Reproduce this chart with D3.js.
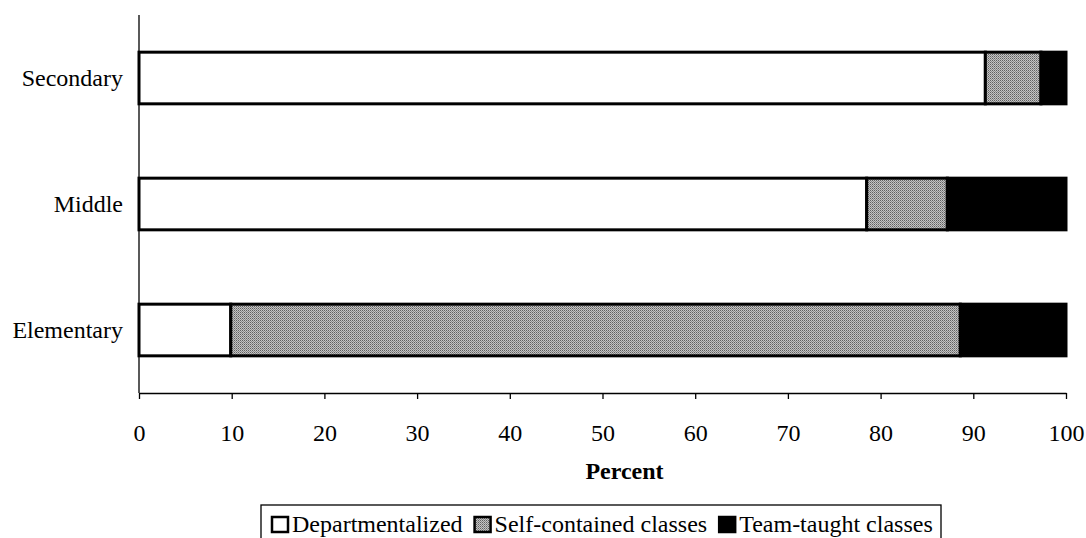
<!DOCTYPE html>
<html><head><meta charset="utf-8">
<script src="https://cdn.jsdelivr.net/npm/d3@7"></script>
<style>body{margin:0;background:#fff}svg{display:block}</style>
</head><body><svg id="c" width="1086" height="538"></svg>
<script>
const categories = ["Secondary", "Middle", "Elementary"];
const seriesNames = ["Departmentalized", "Self-contained classes", "Team-taught classes"];
const departmentalized = [91.3, 78.5, 9.9];
const selfContained = [6.0, 8.7, 78.7];
const teamTaught = [2.7, 12.8, 11.4];
const xTicks = [0,10,20,30,40,50,60,70,80,90,100];

(function(){
const svg = d3.select("#c");
const FF = '"Liberation Serif", "Times New Roman", serif';
const defs = svg.append("defs");
const pat = defs.append("pattern").attr("id","dots").attr("width",2).attr("height",2).attr("patternUnits","userSpaceOnUse");
pat.append("rect").attr("width",2).attr("height",2).attr("fill","#c4c4c4");
pat.append("rect").attr("width",1).attr("height",1).attr("fill","#606060");
pat.append("rect").attr("x",1).attr("y",1).attr("width",1).attr("height",1).attr("fill","#8a8a8a");
const fills = ["#ffffff","url(#dots)","#000000"];

const mLeft = 139, mRight = 1066, mTop = 15, mBottom = 393;
const x = d3.scaleLinear().domain([0,100]).range([mLeft,mRight]);
const y = d3.scaleBand().domain(categories).range([mTop,mBottom]).paddingInner(0.59).paddingOuter(0.295);

const rows = categories.map((c,i)=>({cat:c, vals:[departmentalized[i], selfContained[i], teamTaught[i]]}));
rows.forEach(r=>{
  let acc=0;
  r.vals.forEach((v,j)=>{
    svg.append("rect").attr("x",x(acc)).attr("y",y(r.cat)).attr("width",x(acc+v)-x(acc)).attr("height",y.bandwidth())
      .attr("fill",fills[j]).attr("stroke","#000").attr("stroke-width",3);
    acc+=v;
  });
});

svg.append("line").attr("x1",mLeft).attr("x2",mLeft).attr("y1",mTop).attr("y2",mBottom).attr("stroke","#000").attr("stroke-width",1.3);
const xa = svg.append("g").attr("transform",`translate(0,${mBottom})`)
  .call(d3.axisBottom(x).tickValues(xTicks).tickSize(6).tickSizeOuter(0).tickPadding(25));
xa.select(".domain").attr("stroke","#000").attr("stroke-width",1.3);
xa.selectAll(".tick line").attr("stroke","#000").attr("stroke-width",1.3);
xa.selectAll("text").attr("fill","#000").style("font-family",FF).style("font-size","24px");

const ya = svg.append("g").attr("transform",`translate(${mLeft},0)`)
  .call(d3.axisLeft(y).tickSize(0).tickPadding(16));
ya.select(".domain").remove();
ya.selectAll("text").attr("fill","#000").style("font-family",FF).style("font-size","24px");

svg.append("text").attr("x",(mLeft+mRight)/2 + 22).attr("y",479).attr("text-anchor","middle")
  .style("font-family",FF).style("font-size","24px").attr("font-weight","bold").text("Percent");

const lg = svg.append("g");
lg.append("rect").attr("x",261).attr("y",505).attr("width",680).attr("height",45).attr("fill","none").attr("stroke","#000").attr("stroke-width",1.3);
let lx = 271;
seriesNames.forEach((n,i)=>{
  lg.append("rect").attr("x",lx+1).attr("y",517).attr("width",16).attr("height",15).attr("fill",fills[i]).attr("stroke","#000").attr("stroke-width",2.5);
  const t = lg.append("text").attr("x",lx+21).attr("y",532).style("font-family",FF).style("font-size","24px").text(n);
  lx += 21 + t.node().getComputedTextLength() + 11;
});
})();
</script></body></html>
